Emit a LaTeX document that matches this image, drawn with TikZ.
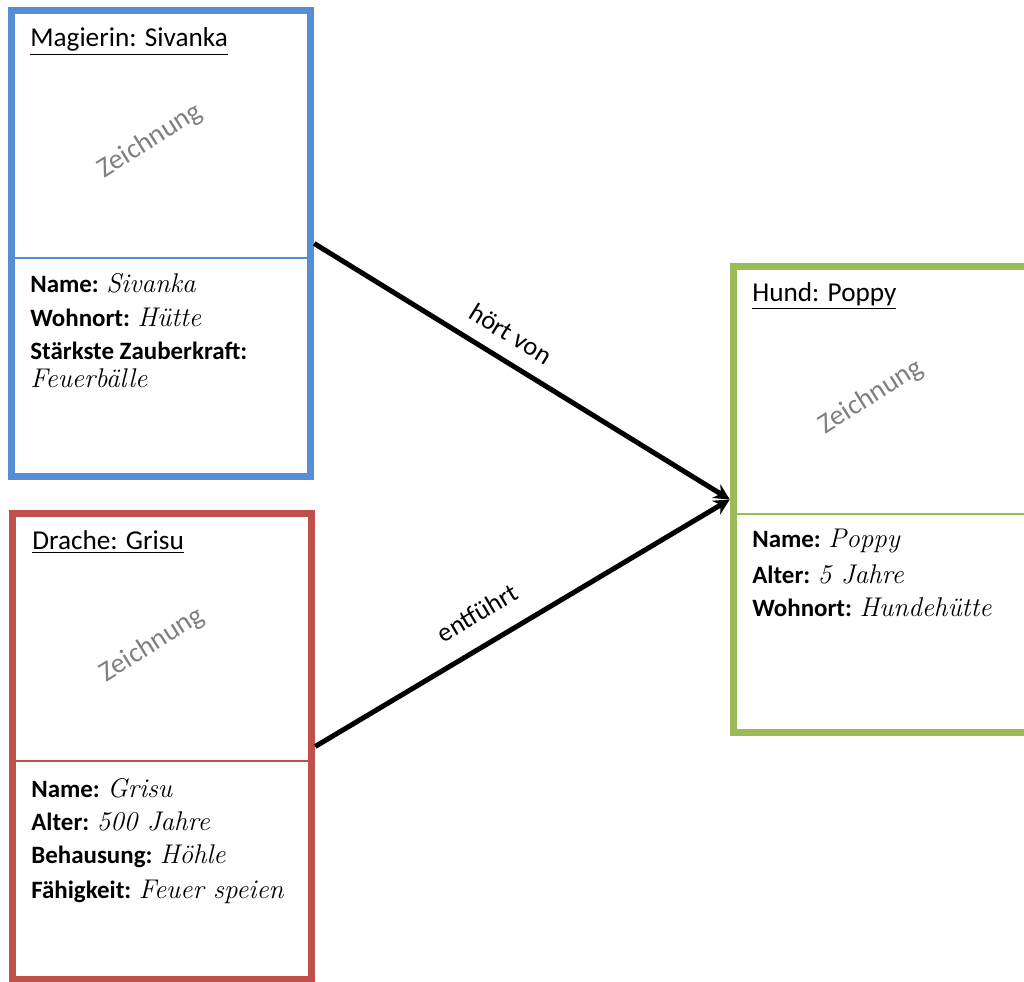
\documentclass[tikz,border=0pt]{standalone}
\usepackage{fontspec}
\newfontfamily\calibri{Carlito}
\usetikzlibrary{calc}
\usetikzlibrary{positioning}
\usetikzlibrary {arrows.meta}
\definecolor{magierblue}{RGB}{85,142,213}
\definecolor{drachered}{RGB}{192,80,77}
\definecolor{hundgreen}{RGB}{155,187,89}
\newcommand{\handval}[1]{{\normalfont\itshape\fontsize{15.4}{17}\selectfont #1}}

\begin{document}
\begin{tikzpicture}[x=0.02cm, y=0.02cm,
    cardnode/.style={rectangle, draw, line width=0.14cm, minimum width=5.99cm, minimum height=9.34cm},
    titletext/.style={anchor=base west, inner sep=0pt, font=\calibri\fontsize{15.5}{18}\selectfont},
    fieldtext/.style={anchor=base west, inner sep=0pt, font=\calibri\fontsize{14.2}{17}\selectfont},
    sketchtext/.style={rotate=32, text=black!50, font=\calibri\fontsize{16}{19}\selectfont},
    relationarrow/.style={line width=0.1cm, -{Stealth[length=9pt, width=9pt]}},
    relationtext/.style={sloped, font=\calibri\fontsize{15}{18}\selectfont},
]
    \useasboundingbox (0,0) rectangle (1024,981);
    \clip (0,0) rectangle (1024,981);

    % Magierin
    \node at (161, 737.5) [cardnode, draw=magierblue](magierin){};
    \draw [magierblue, line width=0.04cm] ($(magierin.west)+(0,-14.5)$) -- ($(magierin.east)+(0,-14.5)$);
    \node (magierin_title) at (30, 934) [titletext]{\underline{Magierin: Sivanka}};
    \node (magierin_sketch) at (150, 840) [sketchtext]{Zeichnung};
    \node (magierin_name) at (30, 688) [fieldtext]{\textbf{Name:} \handval{Sivanka}};
    \node (magierin_ort) at (30, 654) [fieldtext]{\textbf{Wohnort:} \handval{Hütte}};
    \node (magierin_kraft) at (30, 621) [fieldtext]{\textbf{Stärkste Zauberkraft:}};
    \node (magierin_kraftwert) at (30, 593) [fieldtext]{\handval{Feuerbälle}};

    % Drache
    \node at (162, 234.5) [cardnode, draw=drachered](drache){};
    \draw [drachered, line width=0.04cm] ($(drache.west)+(0,-14.5)$) -- ($(drache.east)+(0,-14.5)$);
    \node (drache_title) at (32, 431) [titletext]{\underline{Drache: Grisu}};
    \node (drache_sketch) at (152, 336) [sketchtext]{Zeichnung};
    \node (drache_name) at (31, 184) [fieldtext]{\textbf{Name:} \handval{Grisu}};
    \node (drache_alter) at (31, 151) [fieldtext]{\textbf{Alter:} \handval{500 Jahre}};
    \node (drache_haus) at (31, 118) [fieldtext]{\textbf{Behausung:} \handval{Höhle}};
    \node (drache_faehig) at (31, 83) [fieldtext]{\textbf{Fähigkeit:} \handval{Feuer speien}};

    % Hund
    \node at (883, 481.5) [cardnode, draw=hundgreen](hund){};
    \draw [hundgreen, line width=0.04cm] ($(hund.west)+(0,-14.5)$) -- ($(hund.east)+(0,-14.5)$);
    \node (hund_title) at (752, 679) [titletext]{\underline{Hund: Poppy}};
    \node (hund_sketch) at (871, 584) [sketchtext]{Zeichnung};
    \node (hund_name) at (752, 433) [fieldtext]{\textbf{Name:} \handval{Poppy}};
    \node (hund_alter) at (752, 398) [fieldtext]{\textbf{Alter:} \handval{5 Jahre}};
    \node (hund_ort) at (752, 364) [fieldtext]{\textbf{Wohnort:} \handval{Hundehütte}};

    % Beziehungen
    \draw [relationarrow] (magierin.east) -- (hund.west) node[relationtext, pos=0.44, above=5pt](hoert_label){hört von};
    \draw [relationarrow] (drache.east) -- (hund.west) node[relationtext, pos=0.43, above=8pt](entfuehrt_label){entführt};

\end{tikzpicture}
\end{document}
